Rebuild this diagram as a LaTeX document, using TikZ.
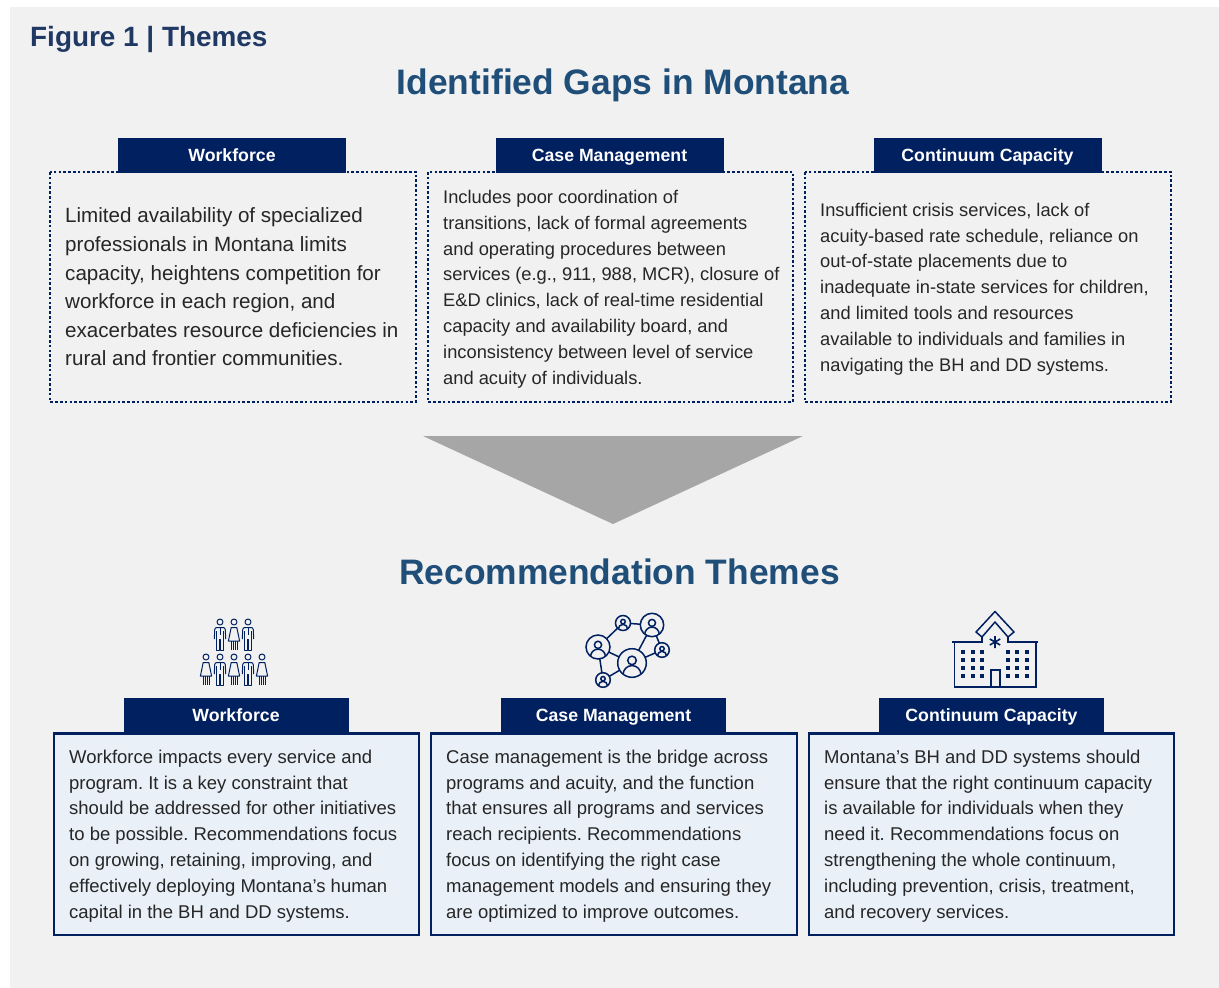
\documentclass[tikz,border=0pt]{standalone}
\usepackage{fontspec}
\usetikzlibrary{calc}
\setmainfont{Liberation Sans}
\frenchspacing
\definecolor{panelgray}{HTML}{F1F1F1}
\definecolor{navy}{HTML}{002060}
\definecolor{figblue}{HTML}{1F3864}
\definecolor{headblue}{HTML}{1F4E79}
\definecolor{pale}{HTML}{E9F0F8}
\definecolor{bodyink}{HTML}{262626}
\definecolor{tri}{HTML}{A6A6A6}
\tikzset{
 x=1pt,y=-1pt,
 tab/.style={fill=navy,text=white,font=\fontsize{17.7}{20}\selectfont\bfseries,minimum width=228,minimum height=35,text height=12.5,text depth=0,inner sep=0,anchor=center},
 rectab/.style={tab,minimum width=225},
 gapbox/.style={draw=navy,line width=2.8pt,dash pattern=on 2.6pt off 2.2pt},
 recbox/.style={draw=navy,line width=2.4pt,fill=pale},
 bodytext/.style={text=bodyink,align=left,anchor=west,inner sep=0},
 heading/.style={text=headblue,font=\fontsize{35.4}{40}\selectfont\bfseries,inner sep=0},
 ic/.style={draw=navy,line width=1.5pt,fill=none},
 figline/.style={draw=navy,line width=1pt,fill=none,line join=round},
 person/.pic={
   \draw[figline] (0,0) circle (3);
   \draw[figline] (-5.6,17) -- (-5.4,8) .. controls (-5.2,6) and (-4.2,5.5) .. (-3,5.5) -- (3,5.5) .. controls (4.2,5.5) and (5.2,6) .. (5.4,8) -- (5.6,17);
   \draw[figline] (-3.2,9) -- (-3.2,28) -- (-0.9,28) -- (-0.9,17) -- (0.9,17) -- (0.9,28) -- (3.2,28) -- (3.2,9);
   \draw[figline] (0,5.5) -- (0,13);
 },
 woman/.pic={
   \draw[figline] (0,0) circle (3);
   \draw[figline] (-2.8,5.5) -- (2.8,5.5) -- (5.6,19) -- (-5.6,19) -- cycle;
   \draw[figline] (-3,19) -- (-3,28) (-1,19) -- (-1,28) (1,19) -- (1,28) (3,19) -- (3,28);
 },
}
\begin{document}
\begin{tikzpicture}
\useasboundingbox (0,0) rectangle (1219,988);
\fill[white] (0,0) rectangle (1219,988);
\fill[panelgray] (10,7) rectangle (1219,988);

\node[text=figblue,font=\fontsize{27.9}{32}\selectfont\bfseries,anchor=west,inner sep=0] (figtitle) at (30,39) {Figure 1 | Themes};
\node[heading] (gaps) at (623,85) {Identified Gaps in Montana};

% gap boxes
\node[tab] (t1) at (232,155) {Workforce};
\node[tab] (t2) at (609.5,155) {Case Management};
\node[tab] (t3) at (987.5,155) {Continuum Capacity};
\draw[gapbox] (50,172) rectangle (416,402);
\draw[gapbox] (428,172) rectangle (793,402);
\draw[gapbox] (805,172) rectangle (1171,402);

\node[bodytext,font=\fontsize{20.6}{28.6}\selectfont] (g1) at (65,287) {Limited availability of specialized\\professionals in Montana limits\\capacity, heightens competition for\\workforce in each region, and\\exacerbates resource deficiencies in\\rural and frontier communities.};
\node[bodytext,font=\fontsize{18.3}{25.8}\selectfont] (g2) at (443,289) {Includes poor coordination of\\transitions, lack of formal agreements\\and operating procedures between\\services (e.g., 911, 988, MCR), closure of\\E\&D clinics, lack of real-time residential\\capacity and availability board, and\\inconsistency between level of service\\and acuity of individuals.};
\node[bodytext,font=\fontsize{18.3}{25.8}\selectfont] (g3) at (820,289) {Insufficient crisis services, lack of\\acuity-based rate schedule, reliance on\\out-of-state placements due to\\inadequate in-state services for children,\\and limited tools and resources\\available to individuals and families in\\navigating the BH and DD systems.};

% arrow
\fill[tri] (423,436) -- (803,436) -- (613,524) -- cycle;

\node[heading] (recs) at (619.5,572) {Recommendation Themes};

% icons : people
\pic at (220,622) {person};
\pic at (234,622) {woman};
\pic at (248,622) {person};
\pic at (206,657) {woman};
\pic at (220,657) {person};
\pic at (234,657) {woman};
\pic at (248,657) {person};
\pic at (262,657) {woman};

% icons : network
\coordinate (n1) at (598,647);
\coordinate (n2) at (623,623);
\coordinate (n3) at (652,625);
\coordinate (n4) at (662,650);
\coordinate (n5) at (632,663);
\coordinate (n6) at (603,680);
\draw[ic] (n1) -- (n2) -- (n3) (n3) -- (n5) (n3) -- (n4) (n4) -- (n5) (n5) -- (n1) (n1) -- (n6) (n6) -- (n5);
\foreach \c/\r in {n1/12,n2/7.5,n3/11.7,n4/7.3,n5/14.3,n6/7.3}{
  \fill[panelgray] (\c) circle (\r);
  \draw[ic] (\c) circle (\r);
  \begin{scope}
    \clip (\c) circle (\r);
    \draw[ic] ($(\c)+(0,-0.18*\r)$) circle (0.3*\r);
    \draw[ic] ($(\c)+(-0.62*\r,0.8*\r)$) arc[start angle=180,end angle=360,radius=0.62*\r];
  \end{scope}
}

% icons : building
\draw[ic] (952,642) -- (982,642) -- (982,637) (1008,637) -- (1008,642) -- (1038,642);
\draw[ic] (954.5,642) -- (954.5,687) -- (1036,687) -- (1036,642);
\draw[ic,line join=round] (976,632) -- (995,611.5) -- (1014,632) -- (1008,637) -- (995,622) -- (982,637) -- cycle;
\draw[ic] (991,687) -- (991,670) -- (1000,670) -- (1000,687);
\draw[navy,line width=1.6pt] (995,636) -- (995,648) (989.8,639) -- (1000.2,645) (989.8,645) -- (1000.2,639);
\foreach \cx in {963,973,982,1008,1017,1027}
 \foreach \cy in {652,660,668,676}
  \fill[navy] (\cx-2,\cy-2) rectangle (\cx+2,\cy+2);

% recommendation boxes
\node[rectab] (r1) at (236,715) {Workforce};
\node[rectab] (r2) at (613.5,715) {Case Management};
\node[rectab] (r3) at (991.5,715) {Continuum Capacity};
\draw[recbox] (54,733.5) rectangle (419,935);
\draw[recbox] (431,733.5) rectangle (797,935);
\draw[recbox] (809,733.5) rectangle (1174,935);

\node[bodytext,font=\fontsize{18.5}{25.8}\selectfont] (b1) at (69,836) {Workforce impacts every service and\\program. It is a key constraint that\\should be addressed for other initiatives\\to be possible. Recommendations focus\\on growing, retaining, improving, and\\effectively deploying Montana’s human\\capital in the BH and DD systems.};
\node[bodytext,font=\fontsize{18.5}{25.8}\selectfont] (b2) at (446,836) {Case management is the bridge across\\programs and acuity, and the function\\that ensures all programs and services\\reach recipients. Recommendations\\focus on identifying the right case\\management models and ensuring they\\are optimized to improve outcomes.};
\node[bodytext,font=\fontsize{18.5}{25.8}\selectfont] (b3) at (824,836) {Montana’s BH and DD systems should\\ensure that the right continuum capacity\\is available for individuals when they\\need it. Recommendations focus on\\strengthening the whole continuum,\\including prevention, crisis, treatment,\\and recovery services.};
\end{tikzpicture}
\end{document}
